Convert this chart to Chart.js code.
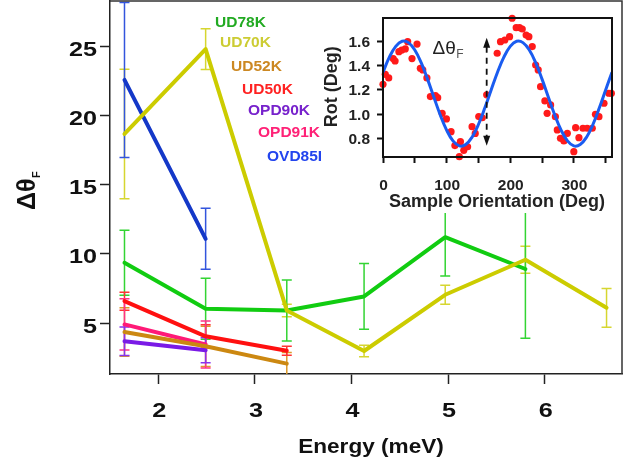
<!DOCTYPE html>
<html>
<head>
<meta charset="utf-8">
<script src="https://cdn.jsdelivr.net/npm/chart.js@4.4.0/dist/chart.umd.min.js"></script>
<style>
  html, body { margin: 0; padding: 0; background: #ffffff; }
  #wrap { position: relative; width: 637px; height: 461px; }
  #main { position: absolute; left: 0; top: 0; }
  #inset { position: absolute; left: 323px; top: 3px; background: #ffffff; }
</style>
</head>
<body>
<div id="wrap">
  <canvas id="main" width="637" height="461"></canvas>
  <canvas id="inset" width="297" height="210"></canvas>
</div>
<script>
// ---------------- main chart data ----------------
const energy = [1.65, 2.49, 3.33, 4.13, 4.97, 5.80, 6.64];
const xTickValues = [2, 3, 4, 5, 6];
const yTickValues = [5, 10, 15, 20, 25];

const ud78k = [9.35, 6.03, 5.91, 6.92, 11.2, 8.9];
const ud78kErr = [2.35, 2.2, 2.2, 2.37, 2.8, 5.0];
const ud70k = [18.65, 24.78, 5.91, 2.98, 7.04, 9.57, 6.1];
const ud70kErr = [4.67, 1.47, 0.45, 0.42, 0.68, 0.97, 1.4];
const ud52k = [4.35, 3.32, 2.07];
const ud52kErr = [1.75, 1.45, 0.8];
const ud50k = [6.58, 4.04, 3.0];
const ud50kErr = [0.65, 0.84, 0.33];
const opd90k = [3.68, 3.03];
const opd90kErr = [1.03, 0.9];
const opd91k = [4.9, 3.45];
const opd91kErr = [1.85, 1.7];
const ovd85i = [22.55, 11.08];
const ovd85iErr = [5.6, 2.2];

// ---------------- inset data ----------------
const orientation = [0, 10, 20, 30, 40, 50, 60, 70, 80, 90, 100, 110, 120, 130, 140, 150, 160, 170,
  180, 190, 200, 210, 220, 230, 240, 250, 260, 270, 280, 290, 300, 310, 320, 330, 340, 350, 360];
const rotFit = [1.347, 1.472, 1.561, 1.603, 1.592, 1.531, 1.426, 1.290, 1.140, 0.993, 0.868, 0.779, 0.737, 0.748, 0.809, 0.914, 1.050, 1.200,
  1.347, 1.472, 1.561, 1.603, 1.592, 1.531, 1.426, 1.290, 1.140, 0.993, 0.868, 0.779, 0.737, 0.748, 0.809, 0.914, 1.050, 1.200, 1.347];
const dotAngle = [0, 3.6, 9, 16, 19, 25, 29.5, 35, 38.8, 45.6, 53.5, 58.7, 62.5, 69, 74.5, 82.4, 86, 93, 99.7, 107, 113, 120, 121.7, 127, 133, 140, 145, 150.5, 156, 163,
  179.5, 184.7, 191.5, 199, 203, 209.4, 214.6, 218.9, 225, 229.3, 234.6, 240, 244, 247.7, 254.5, 258, 263.5, 271, 274, 279, 284.4, 289.8, 300, 302.8, 308, 314.3, 321, 329, 334, 339.5, 347.4, 355, 359];
const dotRot = [1.247, 1.33, 1.30, 1.46, 1.44, 1.517, 1.53, 1.54, 1.60, 1.46, 1.58, 1.38, 1.366, 1.30, 1.145, 1.153, 1.136, 1.007, 0.96, 0.855, 0.74, 0.648, 0.772, 0.70, 0.73, 0.896, 0.84, 0.98, 0.97, 1.16,
  1.504, 1.60, 1.614, 1.641, 1.794, 1.716, 1.716, 1.705, 1.655, 1.641, 1.559, 1.407, 1.366, 1.227, 1.109, 1.007, 1.076, 0.979, 0.869, 0.80, 0.778, 0.841, 0.689, 0.888, 0.805, 0.883, 0.883, 0.883, 0.999, 0.979, 1.09, 1.173, 1.173];
const insetXTicks = [0, 50, 100, 150, 200, 250, 300, 350];
const insetXLabels = [0, 100, 200, 300];
const insetYTicks = [0.8, 1.0, 1.2, 1.4, 1.6];

const FONT = '"Liberation Sans", Arial, sans-serif';

function pts(xs, ys) { return ys.map((v, i) => ({ x: xs[i], y: v })); }

function txt(ctx, s, x, y, font, color, align, sx) {
  ctx.save();
  ctx.font = font;
  ctx.fillStyle = color;
  ctx.textAlign = align || 'left';
  ctx.textBaseline = 'alphabetic';
  ctx.translate(x, y);
  ctx.scale(sx || 1, 1);
  ctx.fillText(s, 0, 0);
  ctx.restore();
}

function series(label, ys, errs, color, errColor) {
  return {
    label: label,
    data: pts(energy, ys),
    errors: errs,
    errColor: errColor,
    borderColor: color,
    backgroundColor: color,
    borderWidth: 4,
    pointRadius: 0,
    tension: 0,
    fill: false,
    borderCapStyle: 'round',
    borderJoinStyle: 'round'
  };
}

const legendItems = [
  { t: 'UD78K', c: '#22aa22', x: 215, y: 26.5 },
  { t: 'UD70K', c: '#cccc33', x: 220, y: 47 },
  { t: 'UD52K', c: '#cc8822', x: 231, y: 71 },
  { t: 'UD50K', c: '#ff2222', x: 242, y: 94 },
  { t: 'OPD90K', c: '#7722cc', x: 248, y: 115 },
  { t: 'OPD91K', c: '#ff2277', x: 258, y: 136.5 },
  { t: 'OVD85I', c: '#2244ee', x: 267, y: 160.7 }
];

const mainPlugin = {
  id: 'mainDeco',
  beforeDatasetsDraw(chart) {
    const { ctx, chartArea: a, scales: { x, y } } = chart;
    ctx.save();
    ctx.beginPath();
    ctx.rect(a.left, a.top - 1, a.right - a.left, a.bottom - a.top + 1);
    ctx.clip();
    chart.data.datasets.forEach(ds => {
      ds.errors.forEach((e, i) => {
        const p = ds.data[i];
        const px = x.getPixelForValue(p.x);
        const top = y.getPixelForValue(p.y + e);
        const bot = y.getPixelForValue(p.y - e);
        ctx.strokeStyle = ds.errColor;
        ctx.lineWidth = 1.5;
        ctx.beginPath();
        ctx.moveTo(px, top); ctx.lineTo(px, bot);
        ctx.moveTo(px - 5, top); ctx.lineTo(px + 5, top);
        ctx.moveTo(px - 5, bot); ctx.lineTo(px + 5, bot);
        ctx.stroke();
      });
    });
    ctx.restore();
  },
  afterDraw(chart) {
    const { ctx, chartArea: a, scales: { x, y } } = chart;
    // frame top & right
    ctx.save();
    ctx.strokeStyle = '#333333';
    ctx.lineWidth = 1.5;
    ctx.beginPath();
    ctx.moveTo(a.left, a.top);
    ctx.lineTo(a.right, a.top);
    ctx.lineTo(a.right, a.bottom);
    ctx.stroke();
    ctx.restore();
    // tick labels
    const tf = 'bold 21px ' + FONT;
    yTickValues.forEach(v => {
      txt(ctx, String(v), 97, y.getPixelForValue(v) + 9.5, tf, '#111111', 'right', 1.2);
    });
    xTickValues.forEach(v => {
      txt(ctx, String(v), x.getPixelForValue(v) + 1, 417, tf, '#111111', 'center', 1.2);
    });
    // axis titles
    txt(ctx, 'Energy (meV)', 371, 452.5, 'bold 20px ' + FONT, '#111111', 'center', 1.13);
    ctx.save();
    ctx.translate(35, 210);
    ctx.rotate(-Math.PI / 2);
    ctx.font = 'bold 25px ' + FONT;
    ctx.fillStyle = '#111111';
    ctx.textAlign = 'left';
    ctx.textBaseline = 'alphabetic';
    ctx.fillText('Δθ', 0, 0);
    const w = ctx.measureText('Δθ').width;
    ctx.font = 'bold 11px ' + FONT;
    ctx.fillText('F', w + 0.5, 5);
    ctx.restore();
    // series labels
    legendItems.forEach(it => {
      txt(ctx, it.t, it.x, it.y, 'bold 15.5px ' + FONT, it.c, 'left', 1);
    });
  }
};

new Chart(document.getElementById('main').getContext('2d'), {
  type: 'line',
  data: {
    datasets: [
      series('UD70K', ud70k, ud70kErr, '#cccc00', '#d6d630'),
      series('UD52K', ud52k, ud52kErr, '#cc8811', '#dd9a2a'),
      series('UD78K', ud78k, ud78kErr, '#11cc11', '#33d433'),
      series('UD50K', ud50k, ud50kErr, '#ff1010', '#ff3333'),
      series('OPD91K', opd91k, opd91kErr, '#ff1a77', '#ff3388'),
      series('OPD90K', opd90k, opd90kErr, '#7a1ae6', '#8833ee'),
      series('OVD85I', ovd85i, ovd85iErr, '#1438c8', '#3355dd')
    ]
  },
  options: {
    responsive: false,
    animation: false,
    devicePixelRatio: 1,
    layout: { padding: { top: 1, right: 15, left: 0, bottom: 0 } },
    plugins: { legend: { display: false }, tooltip: { enabled: false } },
    scales: {
      x: {
        type: 'linear', min: 1.5, max: 6.8,
        afterBuildTicks: ax => { ax.ticks = xTickValues.map(v => ({ value: v })); },
        afterFit: ax => { ax.height = 87; },
        ticks: { display: false },
        grid: { drawOnChartArea: false, drawTicks: true, tickLength: 10, tickColor: '#222222', tickWidth: 1.5 },
        border: { display: true, color: '#222222', width: 1.5 }
      },
      y: {
        type: 'linear', min: 1.32, max: 28.25,
        afterBuildTicks: ax => { ax.ticks = yTickValues.map(v => ({ value: v })); },
        afterFit: ax => { ax.width = 110; },
        ticks: { display: false },
        grid: { drawOnChartArea: false, drawTicks: true, tickLength: 10, tickColor: '#222222', tickWidth: 1.5 },
        border: { display: true, color: '#222222', width: 1.5 }
      }
    }
  },
  plugins: [mainPlugin]
});

// ---------------- inset ----------------
const insetPlugin = {
  id: 'insetDeco',
  beforeDraw(chart) {
    const ctx = chart.ctx;
    ctx.save();
    ctx.fillStyle = '#ffffff';
    ctx.fillRect(0, 0, chart.width, chart.height);
    ctx.restore();
  },
  afterDraw(chart) {
    const { ctx, chartArea: a, scales: { x, y } } = chart;
    ctx.save();
    ctx.strokeStyle = '#111111';
    ctx.lineWidth = 2;
    ctx.strokeRect(a.left, a.top, a.right - a.left, a.bottom - a.top);
    ctx.restore();
    const tf = 'bold 15.5px ' + FONT;
    insetYTicks.forEach(v => {
      txt(ctx, v.toFixed(1), 47, y.getPixelForValue(v) + 5.5, tf, '#222222', 'right', 1);
    });
    insetXLabels.forEach(v => {
      txt(ctx, String(v), x.getPixelForValue(v) + 0.5, 187, tf, '#222222', 'center', 1);
    });
    txt(ctx, 'Sample Orientation (Deg)', 174, 204.3, 'bold 18px ' + FONT, '#222222', 'center', 1);
    ctx.save();
    ctx.translate(13.5, 83.7);
    ctx.rotate(-Math.PI / 2);
    ctx.font = 'bold 18px ' + FONT;
    ctx.fillStyle = '#222222';
    ctx.textAlign = 'center';
    ctx.textBaseline = 'alphabetic';
    ctx.fillText('Rot (Deg)', 0, 0);
    ctx.restore();
    // ΔθF annotation
    const ax0 = x.getPixelForValue(78), ay0 = y.getPixelForValue(1.498);
    ctx.save();
    ctx.font = '19px ' + FONT;
    ctx.fillStyle = '#222222';
    ctx.textBaseline = 'alphabetic';
    ctx.textAlign = 'left';
    ctx.fillText('Δθ', ax0, ay0);
    const w = ctx.measureText('Δθ').width;
    ctx.font = '12px ' + FONT;
    ctx.fillStyle = '#555555';
    ctx.fillText('F', ax0 + w + 0.5, ay0 + 4.5);
    ctx.restore();
    // double arrow
    const px = x.getPixelForValue(163);
    const yt = y.getPixelForValue(1.633), yb = y.getPixelForValue(0.739);
    ctx.save();
    ctx.fillStyle = '#111111';
    ctx.strokeStyle = '#111111';
    ctx.lineWidth = 1.8;
    ctx.beginPath();
    ctx.moveTo(px, yt); ctx.lineTo(px - 3.5, yt + 10); ctx.lineTo(px + 3.5, yt + 10); ctx.closePath(); ctx.fill();
    ctx.beginPath();
    ctx.moveTo(px, yb); ctx.lineTo(px - 3.5, yb - 10); ctx.lineTo(px + 3.5, yb - 10); ctx.closePath(); ctx.fill();
    ctx.setLineDash([6, 5]);
    ctx.beginPath();
    ctx.moveTo(px, yt + 9); ctx.lineTo(px, yb - 9);
    ctx.stroke();
    ctx.restore();
  }
};

new Chart(document.getElementById('inset').getContext('2d'), {
  type: 'line',
  data: {
    datasets: [
      {
        data: pts(orientation, rotFit),
        borderColor: '#1a5cf0', borderWidth: 3, pointRadius: 0, tension: 0.4, fill: false
      },
      {
        data: pts(dotAngle, dotRot),
        showLine: false, pointRadius: 3.6, pointBorderWidth: 0,
        pointBackgroundColor: '#ff1a1a', backgroundColor: '#ff1a1a', borderColor: '#ff1a1a',
        clip: false
      }
    ]
  },
  options: {
    responsive: false,
    animation: false,
    devicePixelRatio: 1,
    layout: { padding: { top: 15, right: 8, left: 0, bottom: 0 } },
    plugins: { legend: { display: false }, tooltip: { enabled: false } },
    scales: {
      x: {
        type: 'linear', min: 0, max: 360,
        afterBuildTicks: ax => { ax.ticks = insetXTicks.map(v => ({ value: v })); },
        afterFit: ax => { ax.height = 56; },
        ticks: { display: false },
        grid: { drawOnChartArea: false, drawTicks: true, tickLength: 6, tickColor: '#111111', tickWidth: 2 },
        border: { display: true, color: '#111111', width: 2 }
      },
      y: {
        type: 'linear', min: 0.645, max: 1.796,
        afterBuildTicks: ax => { ax.ticks = insetYTicks.map(v => ({ value: v })); },
        afterFit: ax => { ax.width = 60; },
        ticks: { display: false },
        grid: { drawOnChartArea: false, drawTicks: true, tickLength: 6, tickColor: '#111111', tickWidth: 2 },
        border: { display: true, color: '#111111', width: 2 }
      }
    }
  },
  plugins: [insetPlugin]
});
</script>
</body>
</html>
